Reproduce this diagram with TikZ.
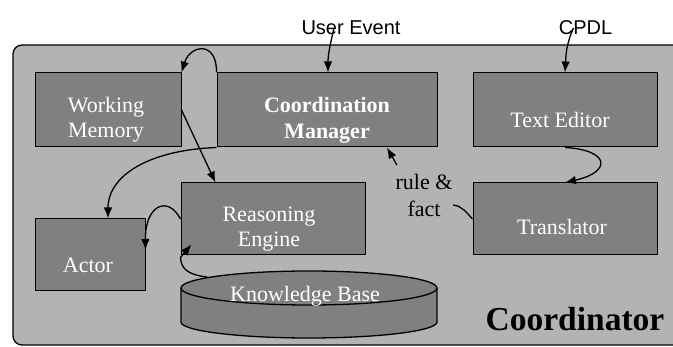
\documentclass[tikz,border=0pt]{standalone}
\usepackage{fontspec}
\setmainfont{Liberation Serif}
\setsansfont{Liberation Sans}
\usetikzlibrary{arrows.meta}

\definecolor{umgebung}{RGB}{179,179,179}  % Hintergrund Coordinator
\definecolor{kasten}{RGB}{128,128,128}    % Module

\begin{document}
\begin{tikzpicture}[x=1pt, y=-1pt, line width=1.3pt,
            >={Latex[length=11pt,width=8.5pt]},
            block/.style={draw, fill=kasten, inner sep=0pt, line width=1pt},
            beschriftung/.style={text=white, inner sep=0pt, align=center,
                                 font=\fontsize{22}{25}\selectfont},
            extern/.style={inner sep=0pt, font=\sffamily\fontsize{20}{24}\selectfont}]
            \useasboundingbox (0,0) rectangle (673,347);
            \clip (0,0) rectangle (673,347);
            \filldraw[fill=umgebung, rounded corners=9pt] (13,45) rectangle (720,345);

            \node[block, minimum width=146pt, minimum height=74pt] (wm) at (108,110) {};
            \node[block, minimum width=220pt, minimum height=74pt] (cm) at (327,110) {};
            \node[block, minimum width=184pt, minimum height=74pt] (te) at (565,110) {};
            \node[block, minimum width=184pt, minimum height=72pt] (re) at (273,219) {};
            \node[block, minimum width=110pt, minimum height=72pt] (ac) at (90,255) {};
            \node[block, minimum width=184pt, minimum height=72pt] (tr) at (565,219) {};

            \fill[kasten] (181,288) rectangle (437,322);
            \fill[kasten] (309,322) ellipse [x radius=128, y radius=16];
            \draw (181,288) -- (181,322) arc [start angle=180, end angle=0, x radius=128, y radius=16] -- (437,288);
            \filldraw[fill=kasten] (309,288) ellipse [x radius=128, y radius=17];
            \coordinate (kbe) at (207,277);

            \node[beschriftung] (wmtext) at (106,119.5) {Working\\Memory};
            \node[beschriftung, font=\bfseries\fontsize{22}{26}\selectfont] (cmtext) at (327,120) {Coordination\\Manager};
            \node[beschriftung] (tetext) at (560,119.5) {Text Editor};
            \node[beschriftung] (retext) at (269,229.5) {Reasoning\\Engine};
            \node[beschriftung] (actext) at (88,265.7) {Actor};
            \node[beschriftung] (trtext) at (562,226.5) {Translator};
            \node[beschriftung] (kb) at (305,296) {Knowledge Base};
            \node[beschriftung, text=black, font=\fontsize{22}{27}\selectfont] (rf) at (424,195) {rule \&\\fact};
            \node[inner sep=0pt, font=\bfseries\fontsize{33.5}{40}\selectfont] (koord) at (575,319) {Coordinator};
            \node[extern] (ue) at (351,28) {User Event};
            \node[extern] (cp) at (585.5,28) {CPDL};

            \draw[->] ([xshift=-17pt]ue.center) .. controls (330,45) and (328,55) .. ([xshift=1pt]cm.north);
            \draw[->] ([xshift=-12pt]cp.center) .. controls (566,45) and (566,55) .. (te.north);
            \draw[->] (cm.north west) .. controls (217,40) and (190,45) .. (wm.north east);
            \draw[->] (wm.east) -- ([xshift=35pt]re.north west);
            \draw[->] (cm.south west) .. controls (150,150) and (108,175) .. ([xshift=18pt]ac.north);
            \draw[->] (re.west) .. controls (168,195) and (145,205) .. ([yshift=5pt]ac.east);
            \draw[->] (kbe) .. controls (190,275) and (181,270) .. ([yshift=-2pt]re.south west)
                      -- ([xshift=11pt,yshift=11pt]re.south west);
            \draw[->] (te.south) .. controls (610,150) and (612,172) .. (tr.north);
            \draw (tr.west) .. controls (466,212) and (462,206) .. ([yshift=-10pt]rf.east);
            \draw[->] ([shift={(2pt,8pt)}]rf.north west) -- ([xshift=60pt]cm.south);
\end{tikzpicture}
\end{document}
